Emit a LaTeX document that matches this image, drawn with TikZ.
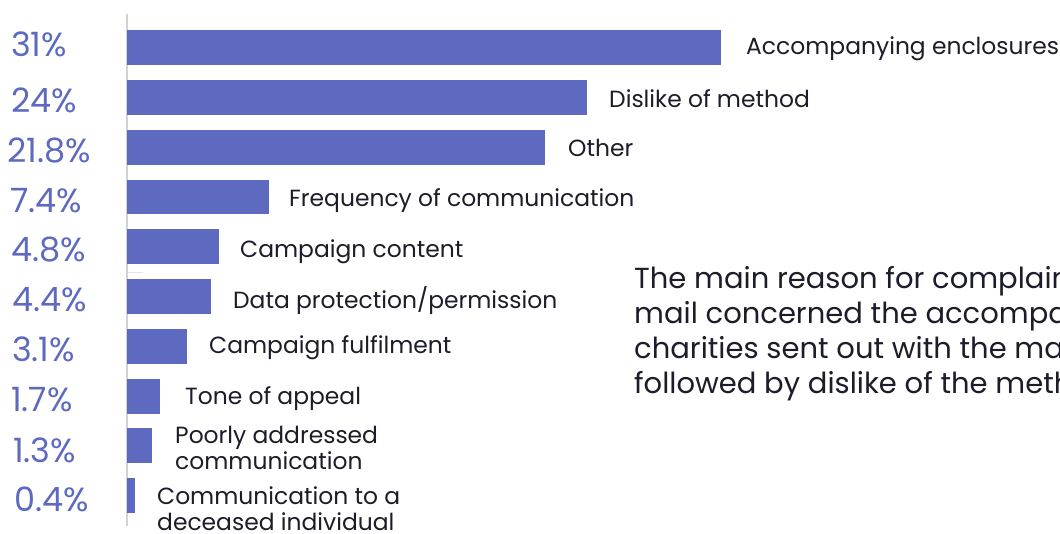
\documentclass[tikz,border=0pt]{standalone}
\usepackage{fontspec}
\setmainfont{Poppins}
\definecolor{barblue}{RGB}{93,106,192}
\definecolor{txt}{RGB}{28,28,42}
\definecolor{axisgray}{RGB}{210,210,210}
\begin{document}
\begin{tikzpicture}[x=1pt,y=-1pt,
  bar/.style={fill=barblue},
  pct/.style={anchor=base west,inner sep=0pt,text=barblue,font=\fontsize{33.5}{32}\selectfont},
  lab/.style={anchor=base west,inner sep=0pt,text=txt,align=left,font=\fontsize{23.4}{26}\selectfont},
  para/.style={anchor=base west,inner sep=0pt,text=txt,align=left,font=\fontsize{29}{35}\selectfont}]
\useasboundingbox (0,0) rectangle (1060,533);
\clip (0,0) rectangle (1060,533);
\fill[white] (0,0) rectangle (1060,533);
% axis
\coordinate (axtop) at (127,14);
\coordinate (axbot) at (127,526);
\draw[axisgray,line width=1.2pt] (axtop) -- (axbot);
\coordinate (tk1) at (128,272);
\coordinate (tk2) at (143,272);
\draw[axisgray!60,line width=1pt] (tk1) -- (tk2);
% bars
\fill[bar] (127,30) rectangle (721,65);
\fill[bar] (127,80) rectangle (587,115);
\fill[bar] (127,130) rectangle (545,165);
\fill[bar] (127,180) rectangle (269,214);
\fill[bar] (127,229) rectangle (219,264);
\fill[bar] (127,279) rectangle (211,314);
\fill[bar] (127,329) rectangle (187,364);
\fill[bar] (127,379) rectangle (160,414);
\fill[bar] (127,428) rectangle (152,463);
\fill[bar] (127,478) rectangle (135,513);
% percentages
\node[pct] (p1) at (11,56) {31\%};
\node[pct] (p2) at (11,112) {24\%};
\node[pct] (p3) at (7,162) {21.8\%};
\node[pct] (p4) at (10,212) {7.4\%};
\node[pct] (p5) at (11,261) {4.8\%};
\node[pct] (p6) at (12,311) {4.4\%};
\node[pct] (p7) at (12,361) {3.1\%};
\node[pct] (p8) at (11,411) {1.7\%};
\node[pct] (p9) at (13,462) {1.3\%};
\node[pct] (p10) at (14,511) {0.4\%};
% labels
\node[lab] (l1) at (746,54) {Accompanying enclosures};
\node[lab] (l2) at (609,107) {Dislike of method};
\node[lab] (l3) at (568,156) {Other};
\node[lab] (l4) at (289,206) {Frequency of communication};
\node[lab] (l5) at (240,257) {Campaign content};
\node[lab] (l6) at (233,308) {Data protection/permission};
\node[lab] (l7) at (209,353) {Campaign fulfilment};
\node[lab] (l8) at (185,404) {Tone of appeal};
\node[lab] (l9) at (175,469) {Poorly addressed\\communication};
\node[lab] (l10) at (157,530) {Communication to a\\deceased individual};
% paragraph
\node[para] (txt) at (634,393) {The main reason for complaints about direct\\mail concerned the accompanying enclosures\\charities sent out with the mail,\\followed by dislike of the method.};
\end{tikzpicture}
\end{document}
